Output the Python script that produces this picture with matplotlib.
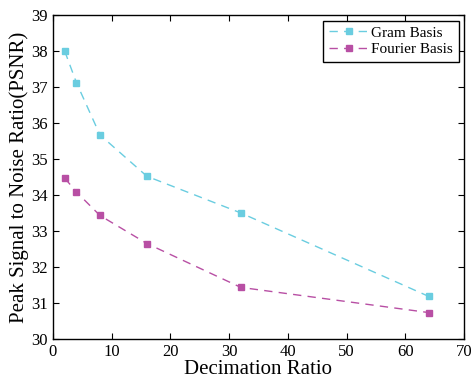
import matplotlib
matplotlib.use("Agg")
import matplotlib.pyplot as plt

plt.rcParams['font.family'] = ['Liberation Serif', 'DejaVu Serif']
plt.rcParams['mathtext.fontset'] = 'stix'

ratios = [2, 4, 8, 16, 32, 64]
gram = [38.0, 37.12, 35.67, 34.52, 33.5, 31.18]
fourier = [34.47, 34.08, 33.43, 32.65, 31.43, 30.73]

fig = plt.figure(figsize=(4.71, 3.79), dpi=100)
ax = fig.add_axes([0.1125, 0.106, 0.8725, 0.854])

ax.plot(ratios, gram, linestyle=(0, (6, 4.5)), color='#6ACDE0', marker='s',
        markersize=5, linewidth=1.0, label='Gram Basis')
ax.plot(ratios, fourier, linestyle=(0, (6, 4.5)), color='#B84FA4', marker='s',
        markersize=5, linewidth=1.0, label='Fourier Basis')

ax.set_xlim(0, 70)
ax.set_ylim(30, 39)
ax.set_xticks(range(0, 71, 10))
ax.set_yticks(range(30, 40))
ax.tick_params(direction='in', top=True, right=True, labelsize=12, length=4)
ax.set_xlabel('Decimation Ratio', fontsize=15, labelpad=0)
ax.set_ylabel('Peak Signal to Noise Ratio(PSNR)', fontsize=15, labelpad=2)
for s in ax.spines.values():
    s.set_linewidth(1.0)

leg = ax.legend(loc='upper right', fontsize=11, fancybox=False, edgecolor='black',
                framealpha=1, handlelength=2.6, borderpad=0.35, labelspacing=0.2,
                handletextpad=0.2, borderaxespad=0.35, bbox_to_anchor=(1.0, 1.0))
leg.get_frame().set_linewidth(1.0)

fig.savefig('out.png', dpi=100)
